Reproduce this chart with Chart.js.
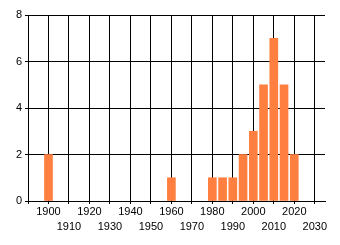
<!DOCTYPE html>
<html>
<head>
<meta charset="utf-8">
<script src="https://cdn.jsdelivr.net/npm/chart.js@4"></script>
<style>
  html, body { margin: 0; padding: 0; background: #fff; }
  #wrap { width: 340px; height: 245px; }
</style>
</head>
<body>
<div id="wrap"><canvas id="graphique"></canvas></div>
<script>
// années et nombre par année
var annees = [1900, 1960, 1980, 1985, 1990, 1995, 2000, 2005, 2010, 2015, 2020];
var valeurs = [2, 1, 1, 1, 1, 2, 3, 5, 7, 5, 2];
var xTicks = [1890, 1900, 1910, 1920, 1930, 1940, 1950, 1960, 1970, 1980, 1990, 2000, 2010, 2020, 2030];
var yTicks = [0, 2, 4, 6, 8];

var points = annees.map(function(a, i) { return { x: a, y: valeurs[i] }; });

var ctx = document.getElementById("graphique").getContext("2d");
var graphique = new Chart(ctx, {
    type: "bar",
    data: {
        datasets: [{
            data: points,
            backgroundColor: "#ff7f40",
            borderWidth: 0,
            barThickness: 8
        }]
    },
    options: {
        responsive: true,
        maintainAspectRatio: false,
        animation: false,
        layout: { padding: { top: 15, right: 15, left: 0, bottom: 0 } },
        plugins: { legend: { display: false }, tooltip: { enabled: false } },
        scales: {
            x: {
                type: "linear",
                offset: false,
                min: 1890,
                max: 2035,
                afterBuildTicks: function(scale) {
                    scale.ticks = xTicks.map(function(v) { return { value: v }; });
                },
                afterFit: function(scale) { scale.height = 44; },
                grid: { color: "#000", lineWidth: 1, tickLength: 3, offset: false },
                border: { color: "#000" },
                ticks: {
                    maxRotation: 0,
                    autoSkip: false,
                    padding: 0,
                    color: "#000",
                    font: { family: "Liberation Sans", size: 11, lineHeight: "15px" },
                    callback: function(v) {
                        if (v < 1900) return "";
                        var idx = (v - 1900) / 10;
                        return idx % 2 === 0 ? [String(v), ""] : ["", String(v)];
                    }
                }
            },
            y: {
                min: 0,
                max: 8,
                afterBuildTicks: function(scale) {
                    scale.ticks = yTicks.map(function(v) { return { value: v }; });
                },
                afterFit: function(scale) { scale.width = 28; },
                grid: { color: "#000", lineWidth: 1, tickLength: 3 },
                border: { color: "#000" },
                ticks: {
                    padding: 3,
                    color: "#000",
                    font: { family: "Liberation Sans", size: 11 }
                }
            }
        }
    }
});
</script>
</body>
</html>
